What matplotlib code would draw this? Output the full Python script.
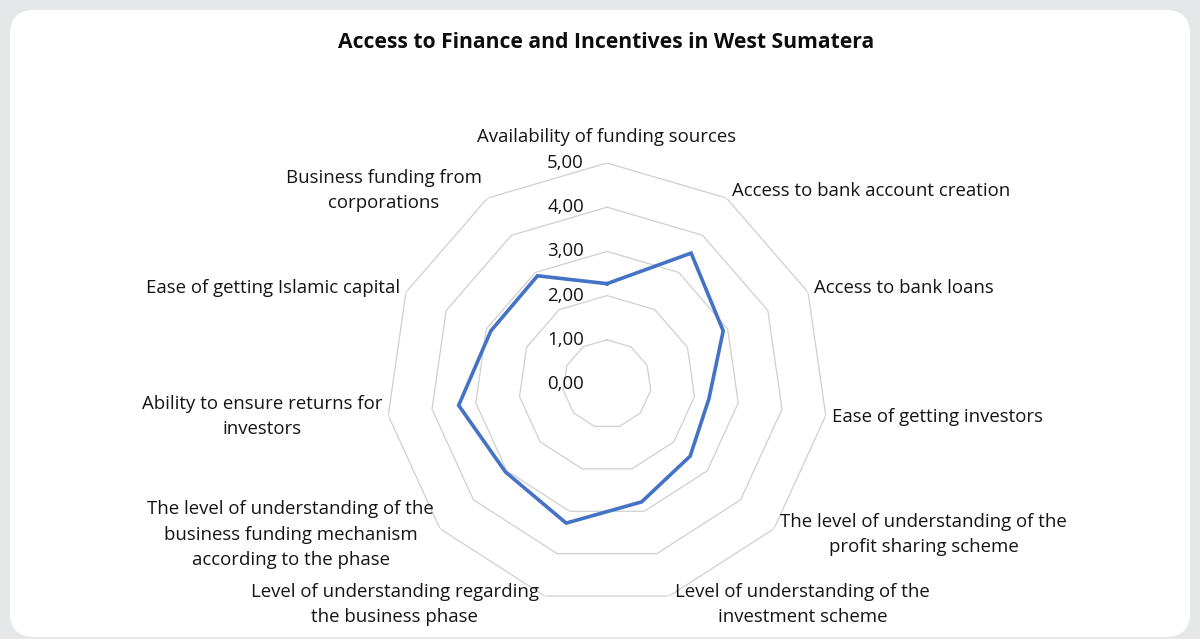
#!/usr/bin/env python3

import matplotlib
matplotlib.use('Agg')
import matplotlib.pyplot as plt
import numpy as np
from matplotlib.patches import FancyBboxPatch
from matplotlib.transforms import IdentityTransform

# data (clockwise from the top)
categories = [
	'Availability of funding sources',
	'Access to bank account creation',
	'Access to bank loans',
	'Ease of getting investors',
	'The level of understanding of the\nprofit sharing scheme',
	'Level of understanding of the\ninvestment scheme',
	'Level of understanding regarding\nthe business phase',
	'The level of understanding of the\nbusiness funding mechanism\naccording to the phase',
	'Ability to ensure returns for\ninvestors',
	'Ease of getting Islamic capital',
	'Business funding from\ncorporations',
]
scores = [2.27, 3.52, 2.89, 2.33, 2.49, 2.78, 3.28, 3.04, 3.39, 2.89, 2.91]
levels = [0, 1, 2, 3, 4, 5]
level_labels = ['0,00', '1,00', '2,00', '3,00', '4,00', '5,00']
title = 'Access to Finance and Incentives in West Sumatera'

plt.rcParams['font.family'] = ['Open Sans', 'DejaVu Sans']
txt = '#141414'
fs = 13.4

fig = plt.figure(figsize=(12, 6.39), dpi=100)
fig.patch.set_facecolor('#e6e7e9')
card = FancyBboxPatch((10, 2), 1180, 627, boxstyle='round,pad=0,rounding_size=24',
	transform=IdentityTransform(), facecolor='white', edgecolor='none', zorder=0)
fig.add_artist(card)

fig.text(0.505, 1 - 42/639, title, ha='center', va='center', fontsize=15.2,
	fontweight='bold', color='#0d0d0d')

ax = fig.add_axes([(607-221)/1200, 34/639, 442/1200, 442/639], projection='polar')
ax.set_facecolor('none')
ax.set_theta_zero_location('N')
ax.set_theta_direction(-1)
ax.set_ylim(0, 5)
ax.spines['polar'].set_visible(False)
ax.grid(False)
ax.set_xticks([])
ax.set_yticks([])

n = len(categories)
angles = np.arange(n) * 2*np.pi/n
ring = np.append(angles, angles[0])

# polygon gridlines
for lv in levels[1:]:
	ax.plot(ring, [lv]*(n+1), color='#cfcfcf', lw=0.9, zorder=1)

vals = scores + scores[:1]
ax.plot(ring, vals, color='#4472c4', lw=2.6, solid_joinstyle='miter', zorder=3)

# value labels along the top axis
for lv, lab in zip(levels, level_labels):
	ax.annotate(lab, xy=(0, lv), xytext=(-23, 0), textcoords='offset pixels',
		ha='right', va='center', fontsize=fs, color=txt)

# category labels just outside the outer ring
for a, lab in zip(angles, categories):
	s, c = np.sin(a), np.cos(a)
	if abs(s) < 0.1:
		ax.annotate(lab, xy=(a, 5), xytext=(0, 17), textcoords='offset pixels',
			ha='center', va='bottom', fontsize=fs, color=txt)
		continue
	ha = 'left' if s > 0 else 'right'
	ax.annotate(lab, xy=(a, 5), xytext=(6*np.sign(s), 9*c), textcoords='offset pixels',
		ha=ha, va='center', multialignment='center', fontsize=fs, color=txt,
		linespacing=1.52)

plt.savefig('out.png', dpi=100, facecolor=fig.get_facecolor())
plt.close()
